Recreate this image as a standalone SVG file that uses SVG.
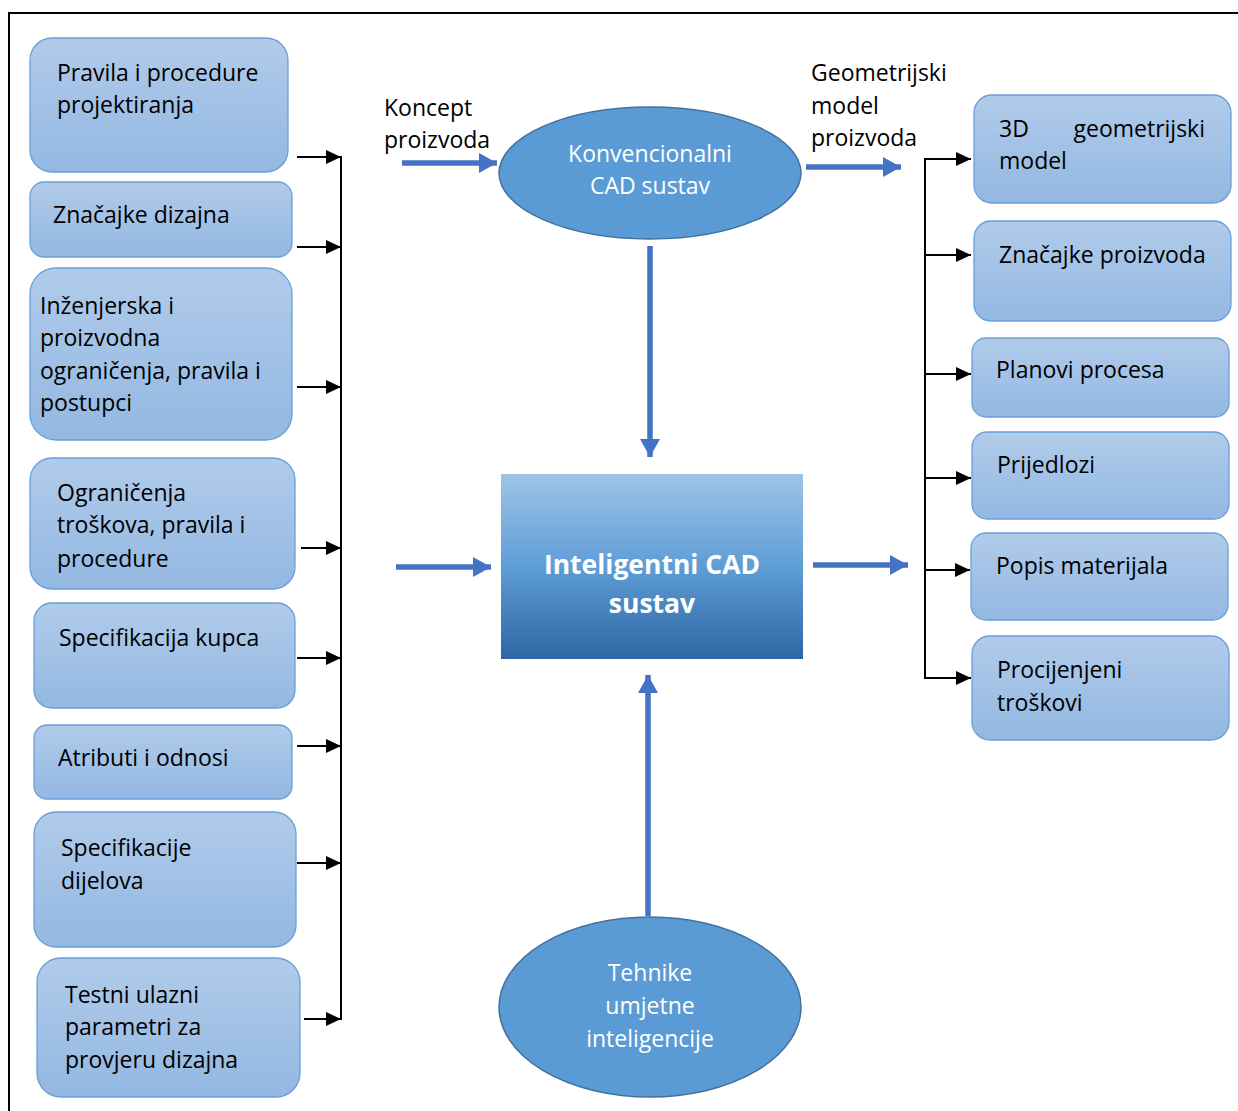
<svg xmlns="http://www.w3.org/2000/svg" width="1238" height="1111" viewBox="0 0 1238 1111">
<defs>
<linearGradient id="gBox" x1="0" y1="0" x2="0" y2="1">
<stop offset="0" stop-color="#b1cbea"/>
<stop offset="1" stop-color="#93b8e2"/>
</linearGradient>
<linearGradient id="gMain" x1="0" y1="0" x2="0" y2="1">
<stop offset="0" stop-color="#9fc3e7"/>
<stop offset="0.5" stop-color="#5f9dd6"/>
<stop offset="1" stop-color="#2c67a3"/>
</linearGradient>
<marker id="ab" markerWidth="15" markerHeight="14" refX="15" refY="7" orient="auto" markerUnits="userSpaceOnUse">
<path d="M0,0 L15,7 L0,14 Z" fill="#000"/>
</marker>
<marker id="abl" markerWidth="18" markerHeight="20" refX="18" refY="10" orient="auto" markerUnits="userSpaceOnUse">
<path d="M0,0 L18,10 L0,20 Z" fill="#4472c4"/>
</marker>
</defs>
<style>
.box{fill:url(#gBox);stroke:#6a9fd8;stroke-width:1.3}
.t{font-family:"Open Sans","Noto Sans",sans-serif;font-size:23px;fill:#000}
.w{font-family:"Open Sans","Noto Sans",sans-serif;font-size:23px;fill:#fff;text-anchor:middle}
.wb{font-family:"Open Sans","Noto Sans",sans-serif;font-size:26.5px;font-weight:bold;fill:#fff;text-anchor:middle}
.ell{fill:#5b9bd5;stroke:#41719c;stroke-width:1.5}
.k{stroke:#000;stroke-width:2;fill:none}
.ka{stroke:#000;stroke-width:2;fill:none;marker-end:url(#ab)}
.b{stroke:#4472c4;stroke-width:5.5;fill:none;marker-end:url(#abl)}
</style>
<rect width="1238" height="1111" fill="#fff"/>
<path d="M9,1111 V13 H1238" fill="none" stroke="#000" stroke-width="2"/>

<g id="n-pravila"><rect class="box" x="30" y="38" width="258" height="134" rx="22"/><text class="t" x="57" y="81">Pravila i procedure</text><text class="t" x="57" y="113">projektiranja</text></g>
<g id="n-znacajke-dizajna"><rect class="box" x="30" y="182" width="262" height="75" rx="14"/><text class="t" x="53" y="223">Značajke dizajna</text></g>
<g id="n-inzenjerska"><rect class="box" x="30" y="268" width="262" height="172" rx="26"/><text class="t" x="40" y="314">Inženjerska i</text><text class="t" x="40" y="346">proizvodna</text><text class="t" x="40" y="379">ograničenja, pravila i</text><text class="t" x="40" y="411">postupci</text></g>
<g id="n-ogranicenja"><rect class="box" x="30" y="458" width="265" height="131" rx="22"/><text class="t" x="57" y="501">Ograničenja</text><text class="t" x="57" y="533">troškova, pravila i</text><text class="t" x="57" y="567">procedure</text></g>
<g id="n-spec-kupca"><rect class="box" x="34" y="603" width="261" height="105" rx="18"/><text class="t" x="59" y="646">Specifikacija kupca</text></g>
<g id="n-atributi"><rect class="box" x="34" y="725" width="258" height="74" rx="13"/><text class="t" x="58" y="766">Atributi i odnosi</text></g>
<g id="n-spec-dijelova"><rect class="box" x="34" y="812" width="262" height="135" rx="22"/><text class="t" x="61" y="856">Specifikacije</text><text class="t" x="61" y="889">dijelova</text></g>
<g id="n-testni"><rect class="box" x="37" y="958" width="263" height="139" rx="24"/><text class="t" x="65" y="1003">Testni ulazni</text><text class="t" x="65" y="1035">parametri za</text><text class="t" x="65" y="1068">provjeru dizajna</text></g>

<g id="n-konvencionalni"><ellipse class="ell" cx="650" cy="173" rx="151" ry="66"/><text class="w" x="650" y="162">Konvencionalni</text><text class="w" x="650" y="194">CAD sustav</text></g>
<g id="n-inteligentni"><rect x="501" y="474" width="302" height="185" fill="url(#gMain)"/><text class="wb" x="652" y="574">Inteligentni CAD</text><text class="wb" x="652" y="613">sustav</text></g>
<g id="n-tehnike"><ellipse class="ell" cx="650" cy="1007" rx="151" ry="90"/><text class="w" x="650" y="981">Tehnike</text><text class="w" x="650" y="1014">umjetne</text><text class="w" x="650" y="1047">inteligencije</text></g>

<g id="n-3d"><rect class="box" x="974" y="95" width="257" height="108" rx="18"/><text class="t" x="999" y="137">3D</text><text class="t" x="1205" y="137" text-anchor="end">geometrijski</text><text class="t" x="999" y="169">model</text></g>
<g id="n-znacajke-proizvoda"><rect class="box" x="974" y="221" width="257" height="100" rx="17"/><text class="t" x="999" y="263">Značajke proizvoda</text></g>
<g id="n-planovi"><rect class="box" x="972" y="338" width="257" height="79" rx="14"/><text class="t" x="996" y="378">Planovi procesa</text></g>
<g id="n-prijedlozi"><rect class="box" x="972" y="432" width="257" height="87" rx="15"/><text class="t" x="997" y="473">Prijedlozi</text></g>
<g id="n-popis"><rect class="box" x="971" y="533" width="257" height="87" rx="15"/><text class="t" x="996" y="574">Popis materijala</text></g>
<g id="n-procijenjeni"><rect class="box" x="972" y="636" width="257" height="104" rx="18"/><text class="t" x="997" y="678">Procijenjeni</text><text class="t" x="997" y="711">troškovi</text></g>

<g id="labels">
<text class="t" x="384" y="116">Koncept</text><text class="t" x="384" y="148">proizvoda</text>
<text class="t" x="811" y="81">Geometrijski</text><text class="t" x="811" y="114">model</text><text class="t" x="811" y="146">proizvoda</text>
</g>

<g id="connectors">
<line class="k" x1="341" y1="156" x2="341" y2="1020"/>
<line class="ka" x1="297" y1="157" x2="341" y2="157"/>
<line class="ka" x1="297" y1="247" x2="341" y2="247"/>
<line class="ka" x1="297" y1="387" x2="341" y2="387"/>
<line class="ka" x1="301" y1="548" x2="341" y2="548"/>
<line class="ka" x1="297" y1="658" x2="341" y2="658"/>
<line class="ka" x1="297" y1="746" x2="341" y2="746"/>
<line class="ka" x1="297" y1="863" x2="341" y2="863"/>
<line class="ka" x1="304" y1="1019" x2="341" y2="1019"/>

<line class="k" x1="925" y1="158" x2="925" y2="679"/>
<line class="ka" x1="924" y1="159" x2="971" y2="159"/>
<line class="ka" x1="924" y1="255" x2="971" y2="255"/>
<line class="ka" x1="924" y1="374" x2="971" y2="374"/>
<line class="ka" x1="924" y1="478" x2="971" y2="478"/>
<line class="ka" x1="924" y1="570" x2="970" y2="570"/>
<line class="ka" x1="924" y1="678" x2="971" y2="678"/>

<line class="b" x1="402" y1="163" x2="497" y2="163"/>
<line class="b" x1="806" y1="167" x2="901" y2="167"/>
<line class="b" x1="650" y1="246" x2="650" y2="457"/>
<line class="b" x1="396" y1="567" x2="491" y2="567"/>
<line class="b" x1="813" y1="565" x2="908" y2="565"/>
<line class="b" x1="648" y1="916" x2="648" y2="675"/>
</g>
</svg>
